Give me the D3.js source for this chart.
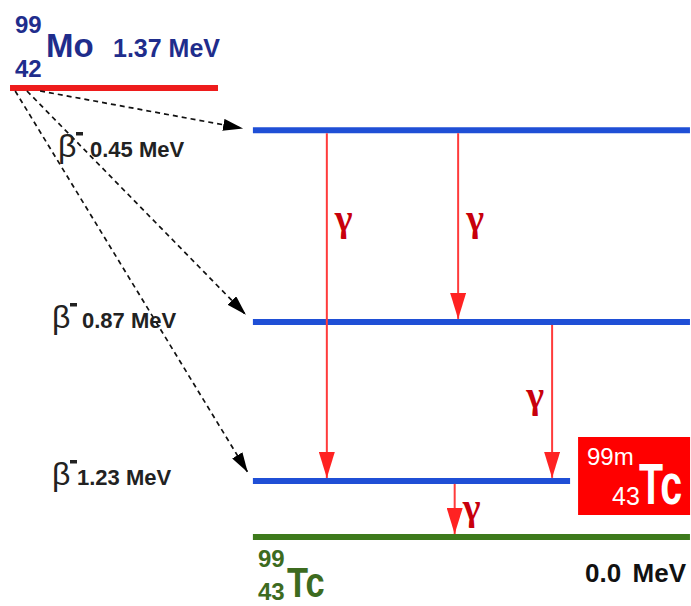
<!DOCTYPE html>
<html>
<head>
<meta charset="utf-8">
<script src="https://cdn.jsdelivr.net/npm/d3@7"></script>
<style>
  body { margin: 0; background: #fff; }
  svg { display: block; }
  text { font-family: "Liberation Sans", Arial, sans-serif; }
</style>
</head>
<body>
<div id="chart"></div>
<script>
// ------------- DATA ------------- //
// levels of the scheme, top to bottom (schematic heights, not to scale)
var levelNames = ["99Mo", "Tc level 1", "Tc level 2", "99mTc", "99Tc"];
var levelHeight = [10, 9.06, 4.79, 1.25, 0];
var levelStart = [1.45, 36.6, 36.6, 36.6, 36.6];
var levelEnd = [31.55, 99.85, 99.85, 82.5, 99.85];

// beta decays from 99Mo
var betaTo = [1, 2, 3];
var betaEnergy = ["0.45 MeV", "0.87 MeV", "1.23 MeV"];
var betaStartX = [5.8, 3.9, 2.2];

// gamma transitions
var gammaFrom = [1, 1, 2, 3];
var gammaTo = [3, 2, 3, 4];
var gammaX = [47.3, 66.3, 79.9, 65.8];
var gammaLabelAt = [7.0, 7.0, 3.05, 0.55];
var gammaSide = [1, 1, -1, 1];

var moEnergy = "1.37 MeV";
var groundEnergy = ["0.0", "MeV"];

// ------------- SETUP ------------- //
var width = 691, height = 606;
var svg = d3.select("#chart").append("svg")
  .attr("width", width)
  .attr("height", height);

var x = d3.scaleLinear().domain([0, 100]).range([0, width]);
var y = d3.scaleLinear().domain([0, 10]).range([537, 88]);

var levelColor = ["#ee1c1c", "#1f4fd6", "#1f4fd6", "#1f4fd6", "#3d7a1c"];

var defs = svg.append("defs");
defs.append("marker")
  .attr("id", "headBlack")
  .attr("markerUnits", "userSpaceOnUse")
  .attr("markerWidth", 20).attr("markerHeight", 12)
  .attr("refX", 20).attr("refY", 6)
  .attr("orient", "auto")
  .append("path").attr("d", "M0,0L20,6L0,12Z").attr("fill", "#000");
defs.append("marker")
  .attr("id", "headRed")
  .attr("markerUnits", "userSpaceOnUse")
  .attr("markerWidth", 26).attr("markerHeight", 16)
  .attr("refX", 26).attr("refY", 8)
  .attr("orient", "auto")
  .append("path").attr("d", "M0,0L26,8L0,16Z").attr("fill", "#ff2222");

// ------------- LEVELS ------------- //
svg.selectAll("line.level")
  .data(levelNames)
  .enter().append("line")
  .attr("class", "level")
  .attr("x1", function(d, i) { return x(levelStart[i]); })
  .attr("x2", function(d, i) { return x(levelEnd[i]); })
  .attr("y1", function(d, i) { return y(levelHeight[i]); })
  .attr("y2", function(d, i) { return y(levelHeight[i]); })
  .attr("stroke", function(d, i) { return levelColor[i]; })
  .attr("stroke-width", 6);

// ------------- BETA ARROWS ------------- //
var gap = 10;
svg.selectAll("line.beta")
  .data(betaTo)
  .enter().append("line")
  .attr("class", "beta")
  .each(function(t, i) {
    var x0 = x(betaStartX[i]), y0 = y(levelHeight[0]) + 3;
    var tx = x(levelStart[t]), ty = y(levelHeight[t]);
    var len = Math.sqrt((tx - x0) * (tx - x0) + (ty - y0) * (ty - y0));
    var k = 1 - gap / len;
    d3.select(this)
      .attr("x1", x0).attr("y1", y0)
      .attr("x2", x0 + (tx - x0) * k)
      .attr("y2", y0 + (ty - y0) * k);
  })
  .attr("stroke", "#111")
  .attr("stroke-width", 1.7)
  .attr("stroke-dasharray", "5,4")
  .attr("marker-end", "url(#headBlack)");

// beta labels
var betaLabelX = [58, 52, 52];
var betaLabelY = [157, 328, 485];
var betaTextX = [90, 82, 77];
betaEnergy.forEach(function(e, i) {
  var g = svg.append("g");
  g.append("text")
    .attr("x", betaLabelX[i]).attr("y", betaLabelY[i])
    .style("font-size", "32px")
    .attr("fill", "#222")
    .text("β");
  g.append("rect")
    .attr("x", betaLabelX[i] + 18).attr("y", betaLabelY[i] - 25)
    .attr("width", 7).attr("height", 3.5)
    .attr("fill", "#222");
  g.append("text")
    .attr("x", betaTextX[i]).attr("y", betaLabelY[i])
    .style("font-size", "22px").style("font-weight", "bold")
    .attr("fill", "#222")
    .text(e);
});

// ------------- GAMMA ARROWS ------------- //
svg.selectAll("line.gamma")
  .data(gammaX)
  .enter().append("line")
  .attr("class", "gamma")
  .attr("x1", function(d) { return x(d); })
  .attr("x2", function(d) { return x(d); })
  .attr("y1", function(d, i) { return y(levelHeight[gammaFrom[i]]) + 3; })
  .attr("y2", function(d, i) { return y(levelHeight[gammaTo[i]]) - 3; })
  .attr("stroke", "#ff3b3b")
  .attr("stroke-width", 2)
  .attr("marker-end", "url(#headRed)");

svg.selectAll("text.gamma")
  .data(gammaX)
  .enter().append("text")
  .attr("class", "gamma")
  .attr("x", function(d, i) { return x(d) + (gammaSide[i] > 0 ? 8 : -8); })
  .attr("y", function(d, i) { return y(gammaLabelAt[i]) + 8; })
  .attr("text-anchor", function(d, i) { return gammaSide[i] > 0 ? "start" : "end"; })
  .style("font-family", "'Liberation Serif', serif")
  .style("font-size", "38px")
  .style("font-weight", "bold")
  .attr("fill", "#c8000c")
  .text("γ");

// ------------- NUCLIDE LABELS ------------- //
var blue = "#1f2d8c";
svg.append("text").attr("x", 15).attr("y", 33)
  .style("font-size", "24px").style("font-weight", "bold").attr("fill", blue).text("99");
svg.append("text").attr("x", 15).attr("y", 77)
  .style("font-size", "24px").style("font-weight", "bold").attr("fill", blue).text("42");
svg.append("text").attr("x", 46).attr("y", 57)
  .style("font-size", "33px").style("font-weight", "bold").attr("fill", blue).text("Mo");
svg.append("text").attr("x", 113).attr("y", 57)
  .style("font-size", "25px").style("font-weight", "bold").attr("fill", blue).text(moEnergy);

var green = "#3d6b1f";
svg.append("text").attr("x", 258).attr("y", 567)
  .style("font-size", "24px").style("font-weight", "bold").attr("fill", green).text("99");
svg.append("text").attr("x", 258).attr("y", 600)
  .style("font-size", "24px").style("font-weight", "bold").attr("fill", green).text("43");
svg.append("text")
  .attr("transform", "translate(287,597) scale(0.82,1)")
  .style("font-size", "42px").style("font-weight", "bold").attr("fill", green)
  .text("Tc");

svg.append("text").attr("x", 585).attr("y", 582)
  .style("font-size", "26px").style("font-weight", "bold").attr("fill", "#111")
  .text(groundEnergy[0]);
svg.append("text").attr("x", 686).attr("y", 582)
  .attr("text-anchor", "end")
  .style("font-size", "26px").style("font-weight", "bold").attr("fill", "#111")
  .text(groundEnergy[1]);

// 99mTc box
svg.append("rect")
  .attr("x", x(levelEnd[3]) + 8).attr("y", 437)
  .attr("width", 112).attr("height", 78)
  .attr("fill", "#ff0000");
svg.append("text").attr("x", 587).attr("y", 465)
  .style("font-size", "24px").attr("fill", "#fff").text("99m");
svg.append("text").attr("x", 612).attr("y", 505)
  .style("font-size", "25px").attr("fill", "#fff").text("43");
svg.append("text")
  .attr("transform", "translate(639,504) scale(0.68,1)")
  .style("font-size", "58px").style("font-weight", "bold").attr("fill", "#fff")
  .text("Tc");
</script>
</body>
</html>
